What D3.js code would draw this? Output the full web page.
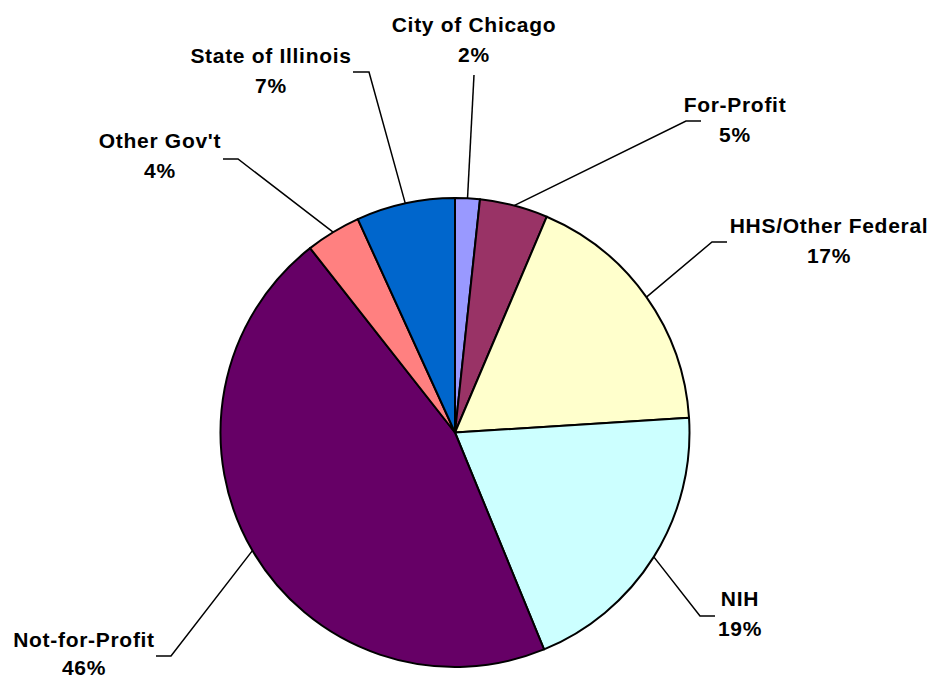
<!DOCTYPE html>
<html>
<head>
<meta charset="utf-8">
<script src="https://cdn.jsdelivr.net/npm/d3@7"></script>
<style>
  html, body { margin: 0; padding: 0; background: #ffffff; }
  #chart text { font-family: "Liberation Sans", Arial, sans-serif; font-weight: bold; font-size: 21px; letter-spacing: 0.7px; fill: #000; }
</style>
</head>
<body>
<div id="chart"></div>
<script>
// slice data, clockwise from 12 o'clock
const categories = ["City of Chicago", "For-Profit", "HHS/Other Federal", "NIH", "Not-for-Profit", "Other Gov't", "State of Illinois"]
const shares = [1.7, 4.7, 17.6, 19.8, 45.6, 3.8, 6.8]
const percentLabels = ["2%", "5%", "17%", "19%", "46%", "4%", "7%"]
const colors = ["#9999ff", "#993366", "#ffffcc", "#ccffff", "#660066", "#ff8080", "#0066cc"]

// label placement: text centre + first baseline, then leader elbow points (outer -> inner)
const labelLayout = [
  { x: 474, y: 32, gap: 30, leader: [[474, 75]] },
  { x: 735, y: 112, gap: 30, leader: [[701, 121], [686, 121]] },
  { x: 829, y: 233, gap: 30, leader: [[727, 242], [712, 242]] },
  { x: 740, y: 606, gap: 30, leader: [[715, 616], [700, 616]] },
  { x: 84, y: 647, gap: 28, leader: [[156, 656], [171, 656]] },
  { x: 160, y: 148, gap: 30, leader: [[223, 159], [238, 159]] },
  { x: 271, y: 63, gap: 30, leader: [[353, 72], [369, 72]] }
]

const width = 932
const height = 679
const cx = 455
const cy = 432.5
const radius = 234.5

const svg = d3.select("#chart")
  .append("svg")
  .attr("width", width)
  .attr("height", height)

const rows = categories.map((c, i) => ({ name: c, value: shares[i], pct: percentLabels[i], color: colors[i], i }))

const pie = d3.pie().sort(null).value(d => d.value)
const arcs = pie(rows)
const arc = d3.arc().innerRadius(0).outerRadius(radius)

const g = svg.append("g").attr("transform", `translate(${cx},${cy})`)

g.selectAll("path")
  .data(arcs)
  .enter()
  .append("path")
  .attr("d", arc)
  .attr("fill", d => d.data.color)
  .attr("stroke", "#000")
  .attr("stroke-width", 2)
  .attr("stroke-linejoin", "round")

// leader lines end on the rim at the slice mid angle
const line = d3.line()
arcs.forEach((d, i) => {
  const lay = labelLayout[i]
  const mid = (d.startAngle + d.endAngle) / 2
  const rim = [cx + Math.sin(mid) * radius, cy - Math.cos(mid) * radius]
  svg.append("path")
    .attr("d", line([...lay.leader, rim]))
    .attr("fill", "none")
    .attr("stroke", "#000")
    .attr("stroke-width", 1.5)

  const t = svg.append("text").attr("text-anchor", "middle")
  t.append("tspan").attr("x", lay.x).attr("y", lay.y).text(d.data.name)
  t.append("tspan").attr("x", lay.x).attr("y", lay.y + lay.gap).text(d.data.pct)
})
</script>
</body>
</html>
